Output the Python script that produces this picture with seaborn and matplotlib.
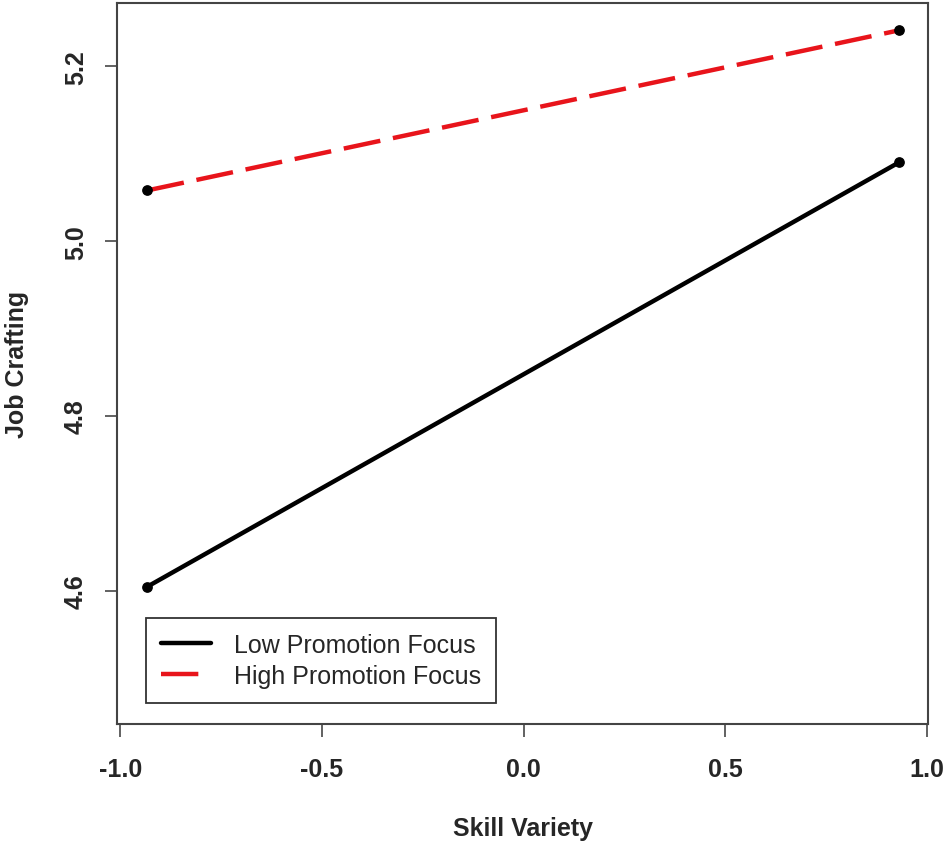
import numpy as np
import pandas as pd
import matplotlib
matplotlib.use("Agg")
import matplotlib.pyplot as plt
import seaborn as sns

skill_variety = [-0.933, 0.931]
low_promotion = [4.605, 5.090]
high_promotion = [5.058, 5.241]
series_names = ["Low Promotion Focus", "High Promotion Focus"]
x_ticks = [-1.0, -0.5, 0.0, 0.5, 1.0]
y_ticks = [4.6, 4.8, 5.0, 5.2]

df = pd.DataFrame({
    "Skill Variety": skill_variety * 2,
    "Job Crafting": low_promotion + high_promotion,
    "Group": [series_names[0]] * 2 + [series_names[1]] * 2,
})

sns.set_style("ticks")
plt.rcParams["font.family"] = ["Liberation Sans", "DejaVu Sans"]

fig = plt.figure(figsize=(9.44, 8.45), dpi=100)
ax = fig.add_axes([0.124, 0.142, 0.859, 0.853])

styles = {
    series_names[0]: dict(color="black", dashes=None),
    series_names[1]: dict(color="#e8141b", dashes=(8.4, 2.9)),
}
for name in series_names:
    sub = df[df["Group"] == name]
    st = styles[name]
    sns.lineplot(data=sub, x="Skill Variety", y="Job Crafting", ax=ax,
                 color=st["color"], linewidth=3.2, label=name)
    ln = ax.get_lines()[-1]
    if st["dashes"] is not None:
        ln.set_dashes(st["dashes"])
    ax.scatter(sub["Skill Variety"], sub["Job Crafting"], s=45, color="black", zorder=5)

ax.set_xlim(-1.008, 1.003)
ax.set_ylim(4.448, 5.272)
ax.set_xticks(x_ticks)
ax.set_xticklabels([f"{v:.1f}" for v in x_ticks])
ax.set_yticks(y_ticks)
ax.set_yticklabels([f"{v:.1f}" for v in y_ticks], rotation=90, va="center")

for lab in ax.get_xticklabels() + ax.get_yticklabels():
    lab.set_fontweight("bold")
    lab.set_fontsize(18)
ax.tick_params(axis="both", length=9, width=1.3, color="#555555")
ax.tick_params(axis="x", pad=15)
ax.tick_params(axis="y", pad=12)

for sp in ax.spines.values():
    sp.set_visible(True)
    sp.set_color("#444444")
    sp.set_linewidth(1.5)

ax.set_xlabel("")
ax.set_ylabel("")
fig.text(0.5 * (0.124 + 0.983), 1 - 829 / 845, "Skill Variety", ha="center", va="center",
         fontsize=18, fontweight="bold")
fig.text(17 / 944, 0.142 + 0.853 / 2, "Job Crafting", ha="center", va="center",
         rotation=90, fontsize=18, fontweight="bold")

leg = ax.legend(loc="lower left", bbox_to_anchor=(0.036, 0.029), borderaxespad=0,
                fontsize=18, frameon=True, fancybox=False, edgecolor="#333333",
                framealpha=1, handlelength=2.0, handletextpad=0.9,
                labelspacing=0.28, borderpad=0.6)
leg.get_frame().set_linewidth(1.3)

fig.savefig("out.png", dpi=100, facecolor="white")
